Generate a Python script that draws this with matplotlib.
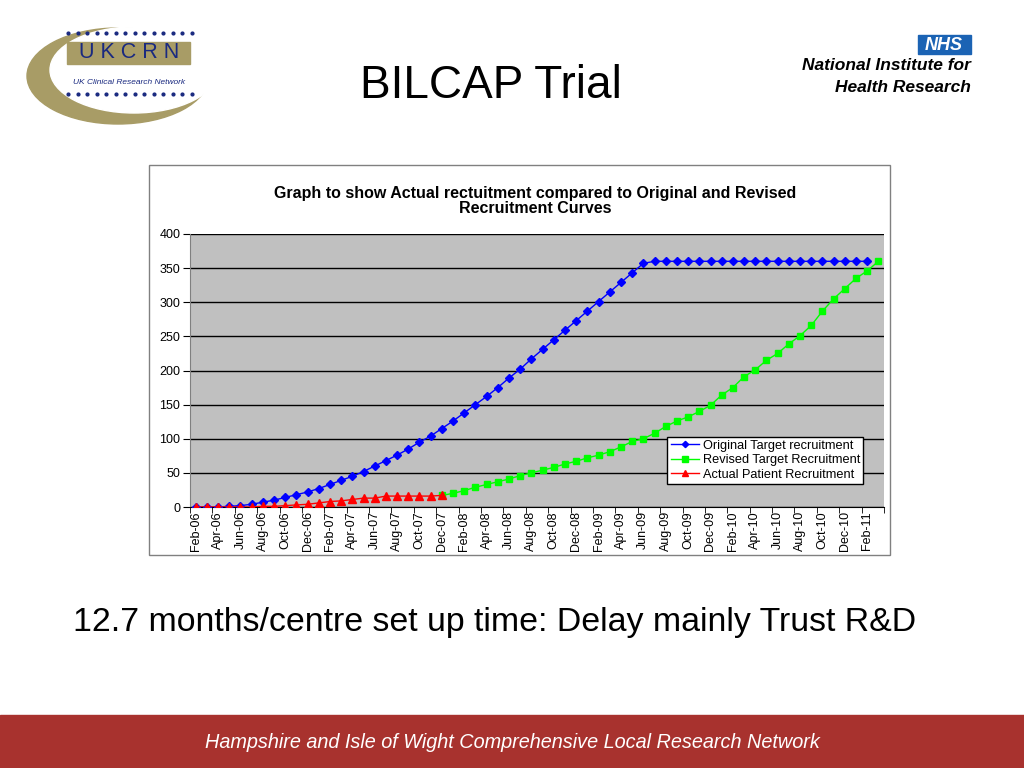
import numpy as np
import pandas as pd
import matplotlib.pyplot as plt
from matplotlib.patches import Rectangle, Ellipse

plt.rcParams['font.family'] = ['Liberation Sans', 'DejaVu Sans']

# monthly categories Feb-06 .. Mar-11
months = list(pd.date_range('2006-02-01', '2011-03-01', freq='MS').strftime('%b-%y'))

# Original target recruitment, Feb-06 .. Feb-11
original = [0, 0, 0, 1, 2, 4, 7, 10, 14, 18, 22, 27, 33, 39, 45, 52, 60, 68, 76, 85,
            95, 104, 115, 126, 138, 150, 162, 175, 189, 202, 217, 231, 245, 259, 273,
            287, 301, 315, 329, 343, 357, 360, 360, 360, 360, 360, 360, 360, 360, 360,
            360, 360, 360, 360, 360, 360, 360, 360, 360, 360, 360]
# Revised target recruitment, Dec-07 .. Mar-11
revised_start = 22
revised = [17, 20, 24, 29, 33, 37, 41, 46, 50, 54, 58, 63, 67, 72, 76, 81, 88, 96, 100,
           108, 118, 126, 132, 140, 149, 164, 175, 191, 201, 215, 225, 239, 251, 266,
           287, 305, 320, 335, 346, 360]
# Actual patient recruitment, Feb-06 .. Dec-07
actual = [0, 0, 0, 0, 0, 0, 1, 1, 2, 3, 4, 6, 8, 9, 11, 13, 13, 16, 16, 16, 16, 16, 17]

fig = plt.figure(figsize=(10.24, 7.68), dpi=100)

# slide background in pixel coordinates
bg = fig.add_axes([0, 0, 1, 1])
bg.set_xlim(0, 1024)
bg.set_ylim(768, 0)
bg.axis('off')

# UKCRN logo (rough)
bg.add_patch(Ellipse((118, 76), 182, 96, color='#a89c66'))
bg.add_patch(Ellipse((134, 70), 168, 86, color='white'))
bg.add_patch(Rectangle((67, 42), 123, 22, color='#a89c66'))
bg.text(129, 53, 'U K C R N', color='#1a2a80', fontsize=15.5, ha='center', va='center')
bg.text(129, 83, 'UK Clinical Research Network', color='#1a2a80', fontsize=6,
        style='italic', ha='center', va='center')
for yy in [33, 94]:
    bg.scatter(np.linspace(68, 192, 14), [yy] * 14, s=4, color='#1a2a80', zorder=3)

# NHS logo (rough)
bg.add_patch(Rectangle((918, 35), 53, 19, color='#1b63b4'))
bg.text(944, 45, 'NHS', color='white', fontsize=13, weight='bold', style='italic',
        ha='center', va='center')
bg.text(971, 66, 'National Institute for', fontsize=12.5, weight='bold', style='italic',
        ha='right', va='center')
bg.text(971, 87, 'Health Research', fontsize=12.5, weight='bold', style='italic',
        ha='right', va='center')

bg.text(491, 86, 'BILCAP Trial', fontsize=33, ha='center', va='center')

# chart frame
bg.add_patch(Rectangle((149, 165), 741, 390, facecolor='white', edgecolor='#808080', lw=1))
bg.text(535, 201, 'Graph to show Actual rectuitment compared to Original and Revised\nRecruitment Curves',
        fontsize=11.5, weight='bold', ha='center', va='center', linespacing=1.05)

bg.text(495, 622, '12.7 months/centre set up time: Delay mainly Trust R&D',
        fontsize=24.4, ha='center', va='center')

# footer band
bg.add_patch(Rectangle((0, 715), 1024, 53, color='#a8322e'))
bg.text(512, 742, 'Hampshire and Isle of Wight Comprehensive Local Research Network',
        fontsize=14.3, style='italic', color='white', ha='center', va='center')

# chart
ax = fig.add_axes([190 / 1024, 1 - 507 / 768, 694 / 1024, 273 / 768])
ax.set_facecolor('#c0c0c0')
x = np.arange(len(months))

ax.plot(x[:len(original)], original, color='#0000ff', marker='D', ms=4, lw=1,
        label='Original Target recruitment', zorder=3)
ax.plot(x[revised_start:revised_start + len(revised)], revised, color='#00ff00', marker='s',
        ms=5, lw=1, label='Revised Target Recruitment', zorder=4)
ax.plot(x[:len(actual)], actual, color='#ff0000', marker='^', ms=5.5, lw=1,
        label='Actual Patient Recruitment', zorder=5)

ax.set_xlim(-0.5, len(months) - 0.5)
ax.set_ylim(0, 400)
ax.set_yticks(np.arange(0, 401, 50))
ax.yaxis.grid(True, color='black', lw=1)
ax.set_axisbelow(True)
ax.tick_params(axis='y', labelsize=9, length=5, direction='out', pad=2)

ax.set_xticks(x[::2])
ax.set_xticklabels(months[::2], rotation=90, fontsize=9)
ax.tick_params(axis='x', length=0, pad=3)
ax.set_xticks(np.arange(-0.5, len(months), 2), minor=True)
ax.tick_params(axis='x', which='minor', length=4, direction='out')

for side in ['top', 'right']:
    ax.spines[side].set_visible(False)
ax.spines['left'].set_color('#808080')
ax.spines['bottom'].set_color('black')

leg = ax.legend(loc='lower left', bbox_to_anchor=(0.688, 0.084), fontsize=9.2,
                frameon=True, fancybox=False, borderpad=0.25, labelspacing=0.2,
                handlelength=2.2, handletextpad=0.3, borderaxespad=0, markerscale=0.8)
leg.get_frame().set_edgecolor('black')
leg.get_frame().set_linewidth(1)
leg.get_frame().set_alpha(1)

fig.savefig('out.png', dpi=100)
